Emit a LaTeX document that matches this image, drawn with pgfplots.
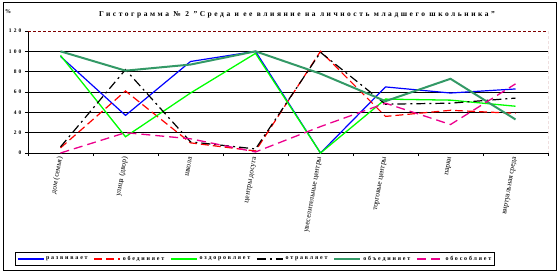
\documentclass[border=0pt]{standalone}
\usepackage{pgfplots}
\pgfplotsset{compat=1.18}
\usepackage{fontspec}
\setmainfont{Liberation Serif}
\definecolor{sgreen}{HTML}{339966}
\definecolor{dred}{HTML}{800000}
\begin{document}
\begin{tikzpicture}[x=1bp,y=1bp]
\useasboundingbox (-28,-119) rectangle (531,153);
\draw[line width=1bp] (-25,-117) rectangle (528,151);
\node[font=\fontsize{7.5}{8}\selectfont\bfseries\addfontfeature{LetterSpace=34}] at (269,138) {Гистограмма № 2 "Среда и ее влияние на личность младшего школьника"};
\node[font=\fontsize{6}{7}\selectfont\bfseries] at (-20,141) {\%};
\begin{axis}[
  at={(0,0)}, anchor=south west,
  scale only axis, width=520bp, height=122bp,
  xmin=0, xmax=8, ymin=0, ymax=120,
  axis lines*=left,
  axis line style={line width=0.8bp, black},
  xtick={0.5,1.5,...,7.5},
  xticklabels={дом (семья), улица (двор), школа, центры досуга, увеселительные центры, торговые центры, парки, виртуальная среда},
  minor xtick={0,1,...,8},
  major x tick style={draw=none},
  minor x tick style={black, line width=0.6bp},
  tick align=outside,
  major tick length=3bp, minor tick length=3bp,
  ytick={0,20,...,100},
  extra y ticks={120},
  extra y tick style={ymajorgrids=false},
  y tick style={black, line width=0.6bp},
  ymajorgrids,
  grid style={black, line width=0.8bp},
  x tick label style={rotate=80, anchor=east, font=\fontsize{7.5}{8}\selectfont, inner sep=1bp},
  y tick label style={font=\fontsize{5.5}{6}\selectfont\bfseries\addfontfeature{LetterSpace=40}},
  /pgf/number format/assume math mode=true,
  legend columns=6,
  legend style={at={(-0.025,-0.869)}, anchor=west, draw=black, line width=0.8bp,
    font=\fontsize{6}{7}\selectfont\bfseries\addfontfeature{LetterSpace=30},
    inner sep=1.5bp,
    /tikz/every even column/.append style={column sep=4bp}},
  legend image code/.code={\draw[#1] (0bp,0bp) -- (26bp,0bp);},
]
\addplot[blue, line width=1.2bp] coordinates {(0.5,95) (1.5,37) (2.5,90) (3.5,100) (4.5,0) (5.5,65) (6.5,59) (7.5,63)};
\addlegendentry{развивает}
\addplot[red, line width=1.2bp, dash pattern=on 8bp off 4bp] coordinates {(0.5,5) (1.5,61) (2.5,10) (3.5,2) (4.5,100) (5.5,36) (6.5,42) (7.5,39)};
\addlegendentry{обединяет}
\addplot[green, line width=1.3bp] coordinates {(0.5,96) (1.5,16) (2.5,59) (3.5,98) (4.5,0) (5.5,53) (6.5,52) (7.5,46)};
\addlegendentry{оздоровляет}
\addplot[black, line width=1.2bp, dash pattern=on 9bp off 4bp on 2bp off 4bp] coordinates {(0.5,6) (1.5,82) (2.5,11) (3.5,4) (4.5,99) (5.5,48) (6.5,49) (7.5,54)};
\addlegendentry{отравляет}
\addplot[sgreen, line width=2bp] coordinates {(0.5,100) (1.5,81) (2.5,87) (3.5,100) (4.5,78) (5.5,51) (6.5,73) (7.5,33)};
\addlegendentry{объединяет}
\addplot[magenta, line width=1.3bp, dash pattern=on 9bp off 5bp] coordinates {(0.5,0) (1.5,20) (2.5,14) (3.5,1) (4.5,26) (5.5,49) (6.5,28) (7.5,68)};
\addlegendentry{обособляет}
\draw[dred, line width=0.8bp, dash pattern=on 3bp off 2bp] (axis cs:0,120) -- (axis cs:8,120) -- (axis cs:8,0);
\end{axis}
\end{tikzpicture}
\end{document}
